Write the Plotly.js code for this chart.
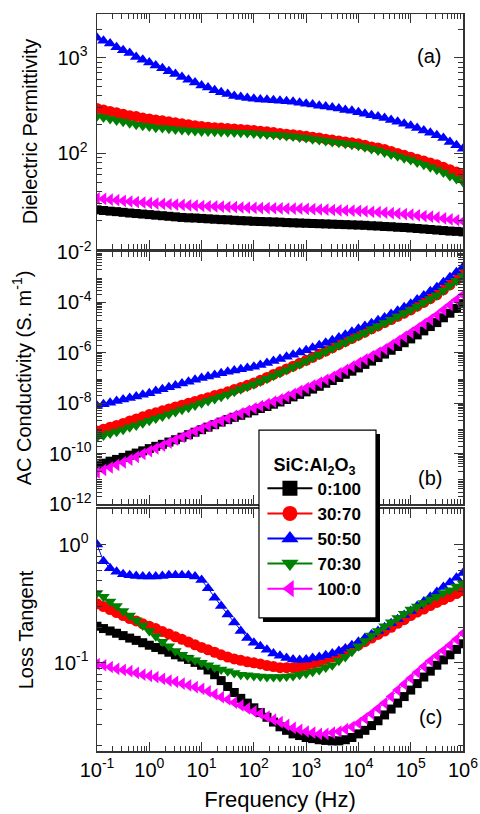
<!DOCTYPE html>
<html><head><meta charset="utf-8">
<script src="https://cdn.plot.ly/plotly-3.0.1.min.js"></script>
<style>html,body{margin:0;padding:0;background:#fff;}#chart{width:480px;height:814px;}</style>
</head><body><div id="chart"></div>
<script>
// ---- data ----
const freq = [0.1,0.133,0.178,0.237,0.316,0.422,0.562,0.75,
  1,1.33,1.78,2.37,3.16,4.22,5.62,7.5,
  10,13.3,17.8,23.7,31.6,42.2,56.2,75,
  100,133,178,237,316,422,562,750,
  1000,1330,1780,2370,3160,4220,5620,7500,
  1e4,1.33e4,1.78e4,2.37e4,3.16e4,4.22e4,5.62e4,7.5e4,
  1e5,1.33e5,1.78e5,2.37e5,3.16e5,4.22e5,5.62e5,7.5e5,
  1e6];

const seriesNames = ['0:100','30:70','50:50','70:30','100:0'];
const seriesColors = ['#000000','#ff0000','#0000ff','#008000','#ff00ff'];
const seriesSymbols = ['square','circle','triangle-up','triangle-down','triangle-left'];

// Dielectric permittivity
const eps_0_100 = [25.7,25.3,24.9,24.6,24.2,23.8,23.5,23.2, 22.9,22.6,22.3,22.0,21.7,21.4,21.2,21.1, 20.9,20.7,20.5,20.3,20.2,20.0,19.8,19.7, 19.5,19.4,19.3,19.2,19.1,18.9,18.8,18.7, 18.6,18.5,18.4,18.3,18.2,18.1,18.0,17.9, 17.8,17.7,17.5,17.4,17.2,17.1,16.9,16.8, 16.6,16.4,16.2,16.0,15.8,15.6,15.4,15.3, 15.1];
const eps_30_70 = [295,285,275,266,257,248,243,234, 229,224,219,214,209,204,200,195, 191,188,186,184,182,180,178,176, 174,171,168,165,162,159,157,154, 151,148,145,141,138,135,132,129, 126,122,117,114,110,105,100,95.5, 91.2,87.1,83.2,79.4,75.9,71.6,67.6,63.8, 60.3];
const eps_50_50 = [1620,1510,1410,1290,1200,1120,1020,955, 891,832,776,724,676,631,589,550, 513,490,457,437,417,398,389,380, 372,367,363,359,355,351,347,339, 331,324,316,309,302,295,285,279, 269,260,251,243,234,224,214,204, 195,184,174,164,155,145,132,122, 112];
const eps_70_30 = [245,237,229,221,214,207,200,195, 191,186,184,181,178,176,174,172, 170,169,168,167,166,165,164,163, 162,160,158,157,155,152,150,147, 145,141,138,135,132,129,126,123, 120,116,111,107,102,97.7,93.3,89.1, 85.1,80.4,75.9,71.6,67.6,63.1,58.2,54.1, 50.1];
const eps_100_0 = [33.9,33.4,32.8,32.4,31.9,31.4,31.0,30.6, 30.2,29.9,29.6,29.4,29.2,28.9,28.6,28.4, 28.2,28.0,27.9,27.7,27.5,27.4,27.2,27.1, 26.9,26.8,26.8,26.7,26.6,26.5,26.4,26.4, 26.3,26.1,25.9,25.8,25.6,25.4,25.3,25.2, 25.1,24.8,24.5,24.3,24.0,23.7,23.5,23.2, 22.9,22.5,22.1,21.8,21.4,20.9,20.4,20.0, 19.5];

// AC conductivity (S/m)
const sig_0_100 = [3.55e-11,4.17e-11,5.01e-11,5.89e-11,7.08e-11,8.71e-11,1.05e-10,1.29e-10, 1.58e-10,1.95e-10,2.34e-10,2.88e-10,3.55e-10,4.47e-10,5.62e-10,7.08e-10, 8.91e-10,1.12e-9,1.41e-9,1.78e-9,2.24e-9,2.75e-9,3.31e-9,4.07e-9, 5.01e-9,6.17e-9,7.41e-9,9.12e-9,1.12e-8,1.41e-8,1.78e-8,2.24e-8, 2.82e-8,3.63e-8,4.68e-8,6.17e-8,7.94e-8,1.05e-7,1.41e-7,1.86e-7, 2.51e-7,3.47e-7,4.68e-7,6.46e-7,8.91e-7,1.26e-6,1.78e-6,2.51e-6, 3.55e-6,5.13e-6,7.41e-6,1.10e-5,1.58e-5,2.45e-5,3.72e-5,5.75e-5, 8.91e-5];
const sig_30_70 = [7.94e-10,9.33e-10,1.12e-9,1.32e-9,1.58e-9,1.95e-9,2.34e-9,2.88e-9, 3.55e-9,4.17e-9,5.01e-9,5.89e-9,7.08e-9,8.32e-9,1.0e-8,1.17e-8, 1.41e-8,1.66e-8,2.0e-8,2.34e-8,2.82e-8,3.47e-8,4.17e-8,5.13e-8, 6.31e-8,8.13e-8,1.05e-7,1.38e-7,1.78e-7,2.29e-7,2.95e-7,3.89e-7, 5.01e-7,6.61e-7,8.91e-7,1.17e-6,1.58e-6,2.09e-6,2.82e-6,3.72e-6, 5.01e-6,6.61e-6,8.91e-6,1.17e-5,1.58e-5,2.09e-5,2.82e-5,3.72e-5, 5.01e-5,7.08e-5,1.0e-4,1.41e-4,2.0e-4,3.16e-4,5.01e-4,7.94e-4, 1.26e-3];
const sig_50_50 = [7.94e-9,9.12e-9,1.05e-8,1.23e-8,1.41e-8,1.62e-8,1.86e-8,2.19e-8, 2.51e-8,3.02e-8,3.55e-8,4.27e-8,5.01e-8,6.03e-8,7.08e-8,8.51e-8, 1.0e-7,1.15e-7,1.32e-7,1.55e-7,1.78e-7,2.0e-7,2.24e-7,2.51e-7, 2.82e-7,3.31e-7,3.98e-7,4.68e-7,5.62e-7,6.92e-7,8.32e-7,1.02e-6, 1.26e-6,1.58e-6,2.0e-6,2.51e-6,3.16e-6,4.07e-6,5.25e-6,6.92e-6, 8.91e-6,1.15e-5,1.48e-5,1.95e-5,2.51e-5,3.47e-5,4.68e-5,6.46e-5, 8.91e-5,1.29e-4,1.86e-4,2.75e-4,3.98e-4,6.31e-4,1.0e-3,1.58e-3, 2.51e-3];
const sig_70_30 = [4.47e-10,5.25e-10,6.31e-10,7.41e-10,8.91e-10,1.10e-9,1.32e-9,1.62e-9, 2.0e-9,2.45e-9,2.95e-9,3.63e-9,4.47e-9,5.50e-9,6.61e-9,8.13e-9, 1.0e-8,1.23e-8,1.48e-8,1.82e-8,2.24e-8,2.82e-8,3.55e-8,4.47e-8, 5.62e-8,7.24e-8,9.33e-8,1.23e-7,1.58e-7,2.09e-7,2.75e-7,3.55e-7, 4.68e-7,6.31e-7,8.32e-7,1.12e-6,1.48e-6,2.0e-6,2.63e-6,3.55e-6, 4.68e-6,6.31e-6,8.51e-6,1.12e-5,1.51e-5,2.04e-5,2.75e-5,3.72e-5, 5.01e-5,6.92e-5,9.77e-5,1.35e-4,1.91e-4,2.95e-4,4.68e-4,7.24e-4, 1.12e-3];
const sig_100_0 = [1.78e-11,2.24e-11,2.82e-11,3.55e-11,4.47e-11,5.75e-11,7.41e-11,9.77e-11, 1.26e-10,1.62e-10,2.09e-10,2.75e-10,3.55e-10,4.57e-10,5.89e-10,7.76e-10, 1.0e-9,1.26e-9,1.58e-9,2.0e-9,2.51e-9,3.16e-9,3.98e-9,5.01e-9, 6.31e-9,7.76e-9,9.33e-9,1.15e-8,1.41e-8,1.82e-8,2.34e-8,3.09e-8, 3.98e-8,5.13e-8,6.61e-8,8.71e-8,1.12e-7,1.55e-7,2.09e-7,2.88e-7, 3.98e-7,5.50e-7,7.41e-7,1.02e-6,1.41e-6,2.04e-6,2.95e-6,4.37e-6, 6.31e-6,9.33e-6,1.41e-5,2.09e-5,3.16e-5,5.01e-5,7.94e-5,1.26e-4, 2.0e-4];

// Loss tangent
const tan_0_100 = [0.204,0.195,0.186,0.178,0.170,0.162,0.155,0.148, 0.141,0.135,0.129,0.123,0.117,0.112,0.107,0.101, 0.0955,0.0871,0.0794,0.0708,0.0631,0.0562,0.0501,0.0457, 0.0417,0.0380,0.0347,0.0316,0.0288,0.0269,0.0251,0.0243, 0.0234,0.0229,0.0224,0.0221,0.0219,0.0219,0.0224,0.0234, 0.0251,0.0269,0.0295,0.0324,0.0363,0.0407,0.0457,0.0519, 0.0589,0.0668,0.0759,0.0851,0.0955,0.106,0.117,0.130, 0.145];
const tan_30_70 = [0.316,0.299,0.282,0.266,0.251,0.237,0.226,0.214, 0.204,0.195,0.184,0.175,0.166,0.158,0.150,0.142, 0.135,0.129,0.123,0.117,0.112,0.108,0.105,0.102, 0.100,0.098,0.095,0.093,0.091,0.091,0.091,0.092, 0.095,0.099,0.102,0.107,0.112,0.119,0.126,0.133, 0.141,0.151,0.162,0.174,0.186,0.200,0.216,0.232, 0.251,0.269,0.285,0.305,0.324,0.343,0.363,0.385, 0.407];
const tan_50_50 = [1.0,0.724,0.631,0.589,0.562,0.550,0.543,0.537, 0.537,0.537,0.543,0.550,0.550,0.550,0.550,0.537, 0.501,0.427,0.355,0.302,0.257,0.219,0.186,0.162, 0.148,0.138,0.129,0.120,0.115,0.110,0.107,0.106, 0.107,0.110,0.112,0.116,0.120,0.126,0.132,0.141, 0.151,0.162,0.174,0.186,0.200,0.216,0.234,0.254, 0.275,0.302,0.331,0.363,0.398,0.437,0.479,0.525, 0.575];
const tan_70_30 = [0.389,0.363,0.331,0.302,0.275,0.251,0.229,0.207, 0.186,0.168,0.151,0.138,0.126,0.117,0.110,0.105, 0.100,0.0955,0.0912,0.0881,0.0851,0.0822,0.0794,0.0785, 0.0776,0.0767,0.0759,0.0759,0.0759,0.0767,0.0776,0.0794, 0.0813,0.0841,0.0871,0.0912,0.0955,0.104,0.112,0.124, 0.138,0.153,0.170,0.186,0.204,0.221,0.240,0.260, 0.282,0.299,0.320,0.343,0.363,0.389,0.412,0.442, 0.468];
const tan_100_0 = [0.0977,0.0955,0.0923,0.0891,0.0871,0.0851,0.0822,0.0794, 0.0776,0.0759,0.0733,0.0708,0.0692,0.0668,0.0646,0.0624, 0.0603,0.0575,0.0543,0.0513,0.0490,0.0462,0.0437,0.0412, 0.0389,0.0372,0.0351,0.0331,0.0316,0.0299,0.0282,0.0272, 0.0263,0.0257,0.0251,0.0251,0.0257,0.0263,0.0275,0.0288, 0.0309,0.0339,0.0372,0.0412,0.0457,0.0519,0.0589,0.0661, 0.0741,0.0832,0.0933,0.104,0.115,0.127,0.141,0.158, 0.178];

const permittivity = [eps_0_100, eps_30_70, eps_50_50, eps_70_30, eps_100_0];
const conductivity = [sig_0_100, sig_30_70, sig_50_50, sig_70_30, sig_100_0];
const lossTangent = [tan_0_100, tan_30_70, tan_50_50, tan_70_30, tan_100_0];

// tick labels
const xTickVals = [0.1,1,10,100,1e3,1e4,1e5,1e6];
const xTickText = ['10<sup>-1</sup>','10<sup>0</sup>','10<sup>1</sup>','10<sup>2</sup>','10<sup>3</sup>','10<sup>4</sup>','10<sup>5</sup>','10<sup>6</sup>'];
const epsTickVals = [100,1000];
const epsTickText = ['10<sup>2</sup>','10<sup>3</sup>'];
const sigTickVals = [1e-12,1e-10,1e-8,1e-6,1e-4,1e-2];
const sigTickText = ['10<sup>-12</sup>','10<sup>-10</sup>','10<sup>-8</sup>','10<sup>-6</sup>','10<sup>-4</sup>','10<sup>-2</sup>'];
const sigOddDecades = [1e-11,1e-9,1e-7,1e-5,1e-3];
const tanTickVals = [0.1,1];
const tanTickText = ['10<sup>-1</sup>','10<sup>0</sup>'];

// ---- chart construction ----
function minorLogTicks(e0, e1){
  const out = [];
  for(let e=e0; e<=e1; e++){ for(let k=2;k<=9;k++){ out.push(k*Math.pow(10,e)); } }
  return out;
}
const FONT = 'Liberation Sans, Arial, Helvetica, sans-serif';
const AX = '#333333';
function baseAxis(extra){
  return Object.assign({
    type:'log', showline:true, linecolor:AX, linewidth:1.5, mirror:'allticks',
    ticks:'inside', ticklen:9, tickwidth:1.2, tickcolor:AX,
    showgrid:false, zeroline:false, tickmode:'array',
    tickfont:{family:FONT, size:20, color:'#000'}
  }, extra);
}
function minorCfg(vals){
  return {tickmode:'array', tickvals:vals, ticks:'inside', ticklen:5, tickwidth:1, tickcolor:AX, showgrid:false};
}

const traces = [];
const panels = [
  {data:permittivity, xa:'x', ya:'y'},
  {data:conductivity, xa:'x2', ya:'y2'},
  {data:lossTangent, xa:'x3', ya:'y3'}
];
panels.forEach(p=>{
  p.data.forEach((vals,i)=>{
    traces.push({
      x:freq, y:vals, xaxis:p.xa, yaxis:p.ya, type:'scatter', mode:'lines+markers',
      name:seriesNames[i], showlegend:false, cliponaxis:true,
      line:{color:seriesColors[i], width:1},
      marker:{symbol:seriesSymbols[i], color:seriesColors[i], size:(i===0?9:11), line:{width:0}}
    });
  });
});
// legend entries
seriesNames.forEach((n,i)=>{
  traces.push({
    x:[null], y:[null], xaxis:'x3', yaxis:'y3', type:'scatter', mode:'lines+markers',
    name:n, showlegend:true,
    line:{color:seriesColors[i], width:2},
    marker:{symbol:seriesSymbols[i], color:seriesColors[i], size:15, line:{width:0}}
  });
});

const layout = {
  width:480, height:814,
  margin:{l:97, r:17, t:14, b:63},
  paper_bgcolor:'#fff', plot_bgcolor:'#fff',
  font:{family:FONT, color:'#000'},
  showlegend:true,
  xaxis: baseAxis({anchor:'y', range:[-1,6], tickvals:xTickVals, ticktext:xTickText, showticklabels:false, minor:minorCfg(minorLogTicks(-1,5))}),
  xaxis2: baseAxis({anchor:'y2', matches:'x', range:[-1,6], tickvals:xTickVals, ticktext:xTickText, showticklabels:false, minor:minorCfg(minorLogTicks(-1,5))}),
  xaxis3: baseAxis({anchor:'y3', matches:'x', range:[-1,6], tickvals:xTickVals, ticktext:xTickText, minor:minorCfg(minorLogTicks(-1,5)),
    title:{text:'Frequency (Hz)', font:{family:FONT, size:22}, standoff:12}}),
  yaxis: baseAxis({domain:[0.6811,1], range:[1,3.458], tickvals:epsTickVals, ticktext:epsTickText, ticklabelstandoff:4, minor:minorCfg(minorLogTicks(1,3)),
    title:{text:'Dielectric Permittivity', font:{family:FONT, size:20}, standoff:14}}),
  yaxis2: baseAxis({domain:[0.3351,0.6771], range:[-12,-2], tickvals:sigTickVals, ticktext:sigTickText, minor:minorCfg(minorLogTicks(-12,-3)),
    title:{text:'AC Conductivity (S. m<sup>-1</sup>)', font:{family:FONT, size:20}, standoff:12}}),
  yaxis4: {overlaying:'y2', anchor:'x2', type:'log', range:[-12,-2], tickmode:'array', tickvals:sigOddDecades,
    ticks:'inside', ticklen:9, tickwidth:1.2, tickcolor:AX, mirror:'ticks', showline:false, showgrid:false, zeroline:false, showticklabels:false},
  yaxis3: baseAxis({domain:[0,0.3284], range:[-1.745,0.301], tickvals:tanTickVals, ticktext:tanTickText, ticklabelstandoff:3, minor:minorCfg(minorLogTicks(-2,0)),
    title:{text:'Loss Tangent', font:{family:FONT, size:20}, standoff:15}}),
  legend:{
    x:0.452, xanchor:'left', y:0.412, yanchor:'top',
    bgcolor:'rgba(0,0,0,0)', borderwidth:0, itemwidth:45,
    font:{family:FONT, size:17, color:'#000', weight:'bold'},
    title:{text:'<b>SiC:Al<sub>2</sub>O<sub>3</sub></b>', side:'top center', font:{family:FONT, size:18, color:'#000'}},
    tracegroupgap:0
  },
  shapes:[
    {type:'rect', xref:'paper', yref:'paper', x0:0.4536, x1:0.7732, y0:0.175, y1:0.430, fillcolor:'#000', line:{width:0}, layer:'above'},
    {type:'rect', xref:'paper', yref:'paper', x0:0.4426, x1:0.7623, y0:0.1805, y1:0.4355, fillcolor:'#fff', line:{color:'#000', width:1.2}, layer:'above'}
  ],
  annotations:[
    {text:'(a)', xref:'paper', yref:'paper', x:0.945, y:0.9607, showarrow:false, font:{family:FONT, size:20}},
    {text:'(b)', xref:'paper', yref:'paper', x:0.947, y:0.3704, showarrow:false, font:{family:FONT, size:20}},
    {text:'(c)', xref:'paper', yref:'paper', x:0.947, y:0.0285, showarrow:false, font:{family:FONT, size:20}}
  ]
};

Plotly.newPlot('chart', traces, layout, {staticPlot:true, displayModeBar:false});
</script></body></html>
